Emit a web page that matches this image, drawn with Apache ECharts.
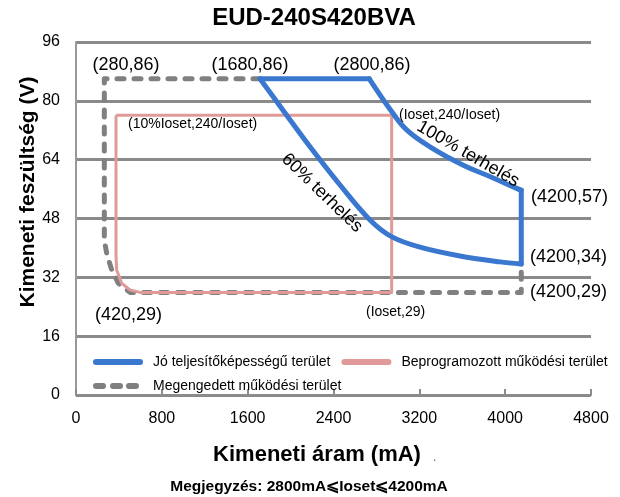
<!DOCTYPE html>
<html>
<head>
<meta charset="utf-8">
<script src="https://cdn.jsdelivr.net/npm/echarts@6/dist/echarts.min.js"></script>
<style>
html,body{margin:0;padding:0;background:#fff;}
#c{width:620px;height:497px;}
</style>
</head>
<body>
<div id="c"></div>
<script>
// ---- data (mA, V) ----
var xTicks = [0, 800, 1600, 2400, 3200, 4000, 4800];
var yTicks = [0, 16, 32, 48, 64, 80, 96];
var seriesNames = ['Jó teljesítőképességű terület', 'Beprogramozott működési terület', 'Megengedett működési terület'];
// good-performance area, split into straight edges and the two load curves
var goodTop = [[1715,86],[2734,86]];
var goodUpper = [[2734,86],[2942,77.1],[3082,72.1],[3299,67.5],[3610,62.5],[3858,59.4],[4107,56.2],[4150,55.7]];
var goodRight = [[4150,55.7],[4150,35.6]];
var goodLower = [[4150,35.6],[3952,36.2],[3579,37.8],[3206,40.2],[2945,43.0],[2740,47.6],[2461,57.1],[2181,67.5],[1948,76.7],[1715,86]];
var programmedArea = [[373,76.1],[2942,76.1],[2942,27.9],[597,27.9],[503,28.6],[426,30.4],[379,34],[373,38],[373,76.1]];
var allowedArea = [[1715,86],[264,86],[264,42.2],[286,38.5],[333,34],[394,30.4],[503,27.9],[4150,27.9],[4150,34]];
var pointLabels = ['(280,86)','(1680,86)','(2800,86)','(10%Ioset,240/Ioset)','(Ioset,240/Ioset)','100% terhelés','60% terhelés','(4200,57)','(4200,34)','(4200,29)','(Ioset,29)','(420,29)'];

var FONT = '"Liberation Sans", Arial, Helvetica, sans-serif';
var BLUE = '#3a78cf', PINK = '#e09a9a', GRAY = '#808080';

var chart = echarts.init(document.getElementById('c'), null, {renderer:'canvas'});

function txt(t, x, y, size, opts) {
  opts = opts || {};
  return {
    type:'text', x:x, y:y, rotation:opts.rot||0, z:50,
    style:{text:t, x:0, y:0, fill:opts.color||'#000', font:(opts.bold?'bold ':'')+size+'px '+FONT,
      textAlign:opts.align||'left', textVerticalAlign:'middle'}
  };
}

var graphics = [
  txt('EUD-240S420BVA', 314, 18, 24, {bold:true, align:'center'}),
  txt('Kimeneti feszültség (V)', 28, 192, 21, {bold:true, align:'center', rot:Math.PI/2}),
  txt('Kimeneti áram (mA)', 317, 455, 22, {bold:true, align:'center'}),
  txt('.', 433, 458, 12, {color:'#666'}),
  txt('Megjegyzés: 2800mA⩽Ioset⩽4200mA', 309, 487, 15.5, {bold:true, align:'center'}),
  txt(pointLabels[0], 126, 65, 18, {align:'center'}),
  txt(pointLabels[1], 250, 65, 18, {align:'center'}),
  txt(pointLabels[2], 372, 65, 18, {align:'center'}),
  txt(pointLabels[3], 128, 124, 14),
  txt(pointLabels[4], 399, 115, 14),
  txt(pointLabels[5], 468, 154, 18, {align:'center', rot:-30*Math.PI/180}),
  txt(pointLabels[6], 322, 193, 18, {align:'center', rot:-44*Math.PI/180}),
  txt(pointLabels[7], 531, 197, 18),
  txt(pointLabels[8], 530, 257, 18),
  txt(pointLabels[9], 530, 292, 18),
  txt(pointLabels[10], 366, 312, 14),
  txt(pointLabels[11], 95, 315, 18)
];

var capsule = 'path://M3,0L47,0A3,3,0,0,1,47,6L3,6A3,3,0,0,1,3,0Z';
var dashes = 'path://M3,0L10,0A3,3,0,0,1,10,6L3,6A3,3,0,0,1,3,0Z' +
  'M20,0L27,0A3,3,0,0,1,27,6L20,6A3,3,0,0,1,20,0Z' +
  'M36,0L43,0A3,3,0,0,1,43,6L36,6A3,3,0,0,1,36,0Z';

function blue(data, smooth) {
  return {name:seriesNames[0], type:'line', data:data, symbol:'none', z:4, smooth:smooth,
    lineStyle:{color:BLUE, width:5, join:'round', cap:'round'}, itemStyle:{color:BLUE}};
}

var option = {
  animation:false,
  backgroundColor:'#fff',
  textStyle:{fontFamily:FONT},
  grid:{left:76, right:29, top:42, bottom:102, containLabel:false},
  xAxis:{
    type:'value', min:xTicks[0], max:xTicks[xTicks.length-1], interval:800,
    axisLine:{show:true, lineStyle:{color:'#8c8c8c', width:2}},
    axisTick:{show:true, inside:true, length:6, lineStyle:{color:'#8c8c8c', width:2}},
    axisLabel:{fontSize:16, color:'#000', margin:16, fontFamily:FONT, formatter:function(v){return String(v);}},
    splitLine:{show:false}
  },
  yAxis:{
    type:'value', min:yTicks[0], max:yTicks[yTicks.length-1], interval:16,
    axisLine:{show:true, lineStyle:{color:'#999', width:2}},
    axisTick:{show:false},
    axisLabel:{fontSize:16, color:'#000', margin:16, fontFamily:FONT, formatter:function(v){return String(v);}},
    splitLine:{show:true, lineStyle:{color:'#8a8a8a', width:3}}
  },
  legend:[
    {left:88, top:350, itemWidth:50, itemHeight:6, itemGap:11,
      data:[{name:seriesNames[0], icon:capsule, itemStyle:{color:BLUE}},
            {name:seriesNames[1], icon:capsule, itemStyle:{color:PINK}}],
      textStyle:{fontSize:14, color:'#000', fontFamily:FONT, padding:[0,0,0,5]}},
    {left:88, top:374, itemWidth:46, itemHeight:6,
      data:[{name:seriesNames[2], icon:dashes, itemStyle:{color:GRAY}}],
      textStyle:{fontSize:14, color:'#000', fontFamily:FONT, padding:[0,0,0,9]}}
  ],
  series:[
    {name:seriesNames[2], type:'line', data:allowedArea, symbol:'none', z:2,
      lineStyle:{color:GRAY, width:5, type:[7,10], cap:'round', join:'round'}, itemStyle:{color:GRAY}},
    {name:seriesNames[1], type:'line', data:programmedArea, symbol:'none', z:3,
      lineStyle:{color:PINK, width:3, join:'round'}, itemStyle:{color:PINK}},
    blue(goodTop, false),
    blue(goodUpper, 0.4),
    blue(goodRight, false),
    blue(goodLower, 0.35)
  ],
  graphic:graphics
};
chart.setOption(option);
</script>
</body>
</html>
